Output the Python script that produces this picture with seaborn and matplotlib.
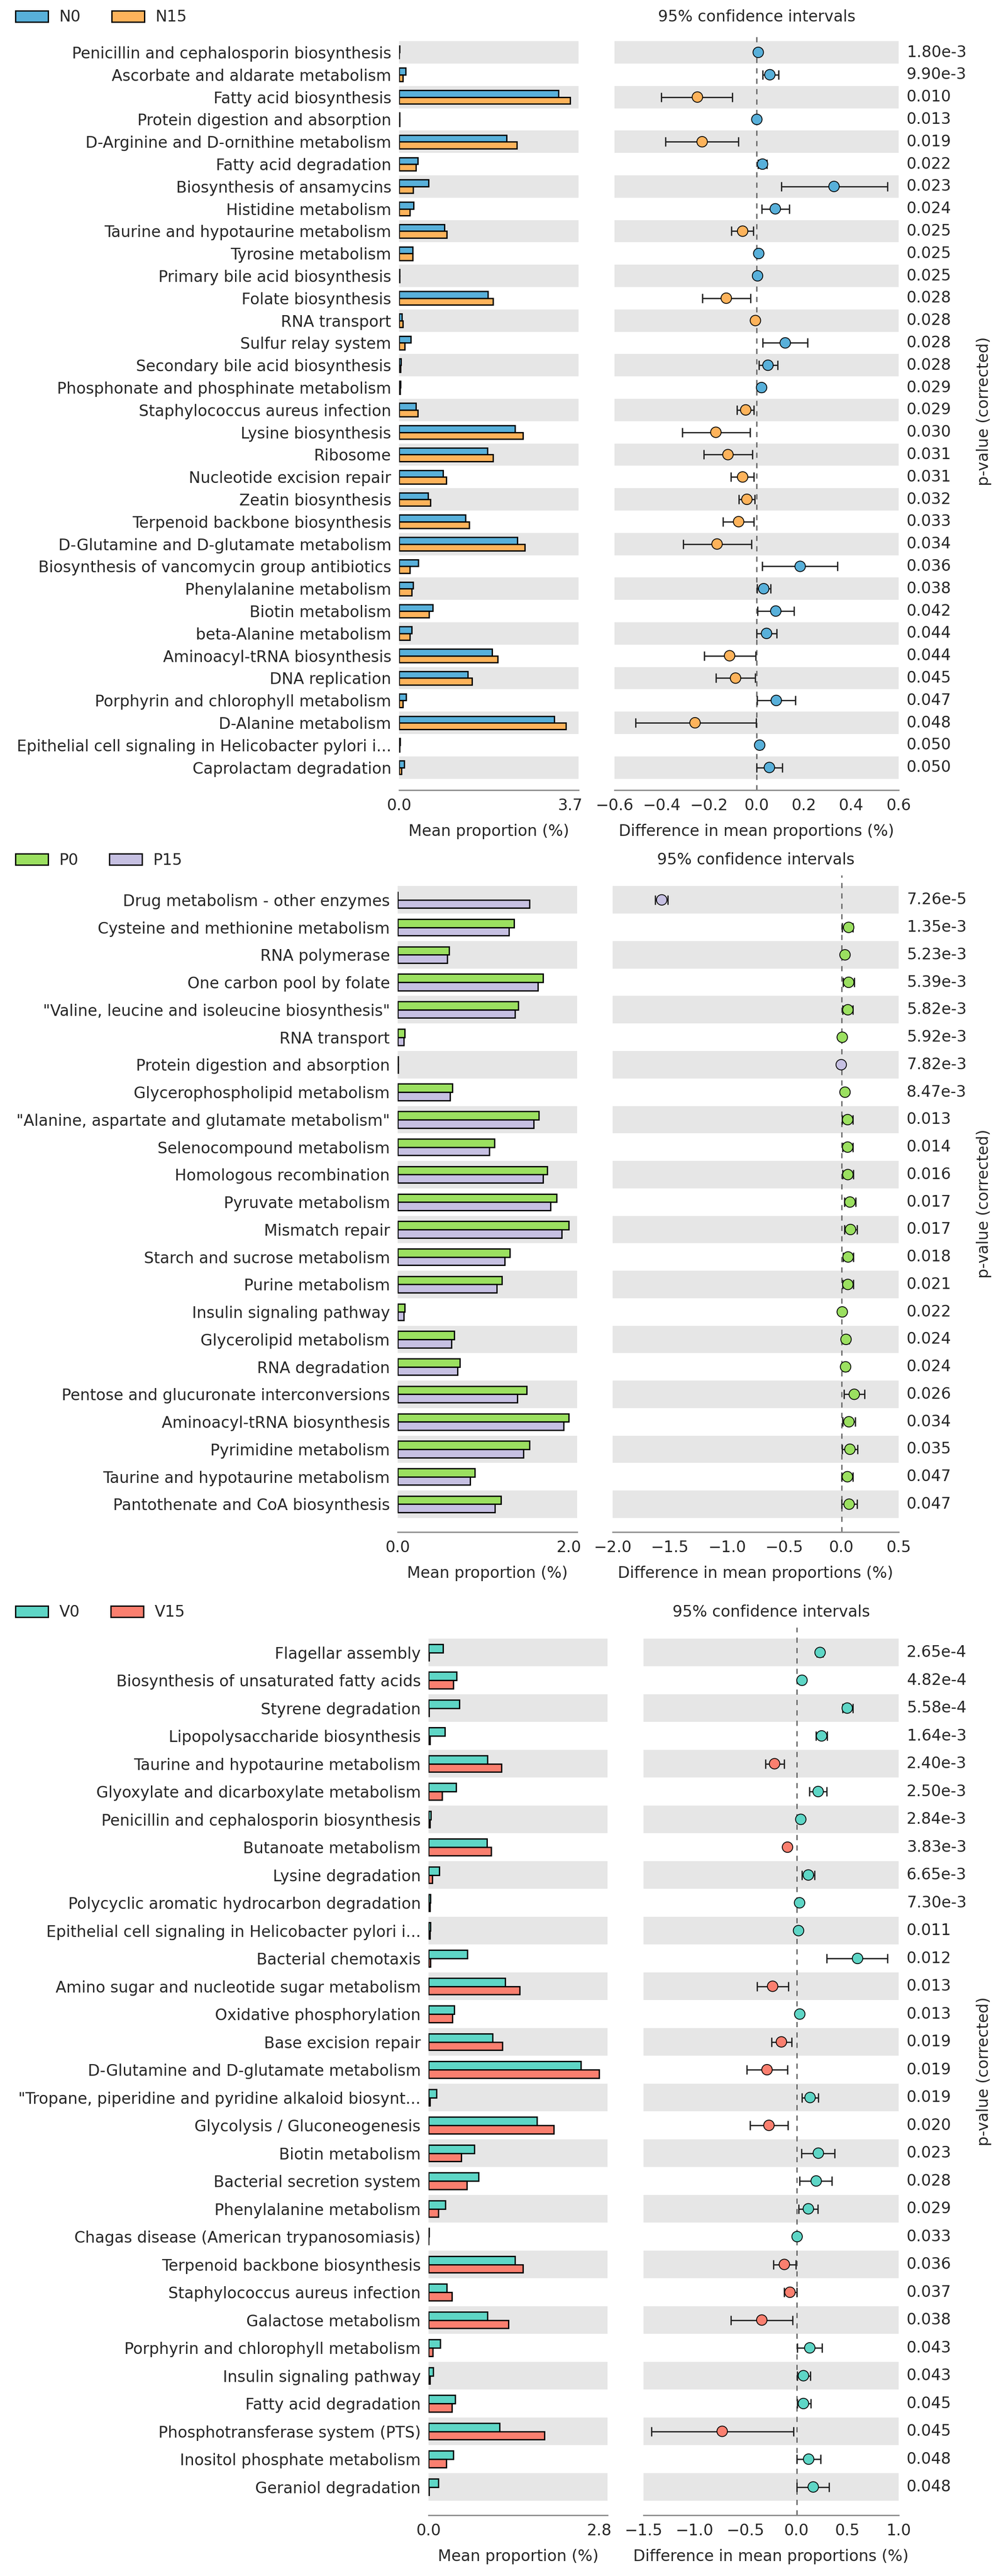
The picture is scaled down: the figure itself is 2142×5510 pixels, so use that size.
import matplotlib
matplotlib.use('Agg')
import matplotlib.pyplot as plt
from matplotlib.patches import Patch
import numpy as np
import pandas as pd
import seaborn as sns

# ---------- panel 1 : N0 vs N15 ----------
names1 = ["Penicillin and cephalosporin biosynthesis", "Ascorbate and aldarate metabolism",
          "Fatty acid biosynthesis", "Protein digestion and absorption",
          "D-Arginine and D-ornithine metabolism", "Fatty acid degradation",
          "Biosynthesis of ansamycins", "Histidine metabolism",
          "Taurine and hypotaurine metabolism", "Tyrosine metabolism",
          "Primary bile acid biosynthesis", "Folate biosynthesis", "RNA transport",
          "Sulfur relay system", "Secondary bile acid biosynthesis",
          "Phosphonate and phosphinate metabolism", "Staphylococcus aureus infection",
          "Lysine biosynthesis", "Ribosome", "Nucleotide excision repair",
          "Zeatin biosynthesis", "Terpenoid backbone biosynthesis",
          "D-Glutamine and D-glutamate metabolism",
          "Biosynthesis of vancomycin group antibiotics", "Phenylalanine metabolism",
          "Biotin metabolism", "beta-Alanine metabolism", "Aminoacyl-tRNA biosynthesis",
          "DNA replication", "Porphyrin and chlorophyll metabolism", "D-Alanine metabolism",
          "Epithelial cell signaling in Helicobacter pylori i...", "Caprolactam degradation"]
n0 = [0.01, 0.14, 3.46, 0.01, 2.33, 0.41, 0.64, 0.31, 0.98, 0.29, 0.01, 1.93, 0.06, 0.25, 0.04,
      0.03, 0.37, 2.52, 1.92, 0.95, 0.63, 1.44, 2.57, 0.42, 0.30, 0.73, 0.27, 2.02, 1.49, 0.15,
      3.37, 0.02, 0.11]
n15 = [0.0, 0.08, 3.71, 0.01, 2.56, 0.37, 0.30, 0.23, 1.03, 0.29, 0.01, 2.04, 0.08, 0.12, 0.03,
       0.02, 0.41, 2.69, 2.04, 1.02, 0.68, 1.52, 2.73, 0.23, 0.27, 0.65, 0.23, 2.14, 1.58, 0.08,
       3.62, 0.01, 0.05]
diff1 = [0.007, 0.056, -0.250, 0.001, -0.230, 0.025, 0.327, 0.079, -0.059, 0.009, 0.004, -0.128,
         -0.005, 0.121, 0.048, 0.021, -0.046, -0.172, -0.121, -0.059, -0.041, -0.076, -0.167,
         0.184, 0.030, 0.081, 0.042, -0.114, -0.089, 0.083, -0.260, 0.013, 0.054]
lo1 = [0.004, 0.025, -0.403, -0.001, -0.385, 0.005, 0.104, 0.022, -0.106, 0.006, 0.001, -0.229,
       -0.008, 0.025, 0.009, 0.011, -0.082, -0.313, -0.224, -0.108, -0.075, -0.143, -0.310,
       0.024, 0.001, 0.004, 0.000, -0.221, -0.172, 0.002, -0.512, 0.002, 0.000]
hi1 = [0.010, 0.092, -0.102, 0.003, -0.076, 0.043, 0.552, 0.139, -0.013, 0.012, 0.007, -0.025,
       -0.002, 0.216, 0.088, 0.031, -0.012, -0.027, -0.018, -0.011, -0.008, -0.012, -0.021,
       0.341, 0.060, 0.158, 0.085, -0.003, -0.005, 0.164, -0.002, 0.024, 0.109]
pv1 = ["1.80e-3", "9.90e-3", "0.010", "0.013", "0.019", "0.022", "0.023", "0.024", "0.025",
       "0.025", "0.025", "0.028", "0.028", "0.028", "0.028", "0.029", "0.029", "0.030", "0.031",
       "0.031", "0.032", "0.033", "0.034", "0.036", "0.038", "0.042", "0.044", "0.044", "0.045",
       "0.047", "0.048", "0.050", "0.050"]

# ---------- panel 2 : P0 vs P15 ----------
names2 = ["Drug metabolism - other enzymes", "Cysteine and methionine metabolism",
          "RNA polymerase", "One carbon pool by folate",
          '"Valine, leucine and isoleucine biosynthesis"', "RNA transport",
          "Protein digestion and absorption", "Glycerophospholipid metabolism",
          '"Alanine, aspartate and glutamate metabolism"', "Selenocompound metabolism",
          "Homologous recombination", "Pyruvate metabolism", "Mismatch repair",
          "Starch and sucrose metabolism", "Purine metabolism", "Insulin signaling pathway",
          "Glycerolipid metabolism", "RNA degradation",
          "Pentose and glucuronate interconversions", "Aminoacyl-tRNA biosynthesis",
          "Pyrimidine metabolism", "Taurine and hypotaurine metabolism",
          "Pantothenate and CoA biosynthesis"]
p0 = [0.0, 1.36, 0.60, 1.70, 1.41, 0.08, 0.005, 0.64, 1.65, 1.13, 1.75, 1.86, 2.00, 1.31, 1.22,
      0.08, 0.66, 0.73, 1.51, 2.00, 1.54, 0.90, 1.21]
p15 = [1.54, 1.30, 0.58, 1.64, 1.37, 0.07, 0.005, 0.61, 1.59, 1.07, 1.70, 1.79, 1.92, 1.25, 1.16,
       0.07, 0.63, 0.70, 1.40, 1.94, 1.47, 0.85, 1.14]
diff2 = [-1.571, 0.063, 0.031, 0.063, 0.056, 0.007, -0.002, 0.031, 0.054, 0.054, 0.056, 0.074,
         0.079, 0.058, 0.056, 0.007, 0.040, 0.036, 0.112, 0.065, 0.074, 0.052, 0.067]
lo2 = [-1.63, 0.005, 0.010, 0.015, 0.010, 0.002, -0.004, 0.010, 0.005, 0.010, 0.008, 0.025,
       0.025, 0.012, 0.008, 0.002, 0.015, 0.012, 0.022, 0.010, 0.005, 0.002, 0.000]
hi2 = [-1.52, 0.100, 0.052, 0.110, 0.100, 0.012, 0.000, 0.052, 0.100, 0.098, 0.104, 0.124,
       0.135, 0.104, 0.104, 0.012, 0.065, 0.060, 0.202, 0.122, 0.140, 0.100, 0.135]
pv2 = ["7.26e-5", "1.35e-3", "5.23e-3", "5.39e-3", "5.82e-3", "5.92e-3", "7.82e-3", "8.47e-3",
       "0.013", "0.014", "0.016", "0.017", "0.017", "0.018", "0.021", "0.022", "0.024", "0.024",
       "0.026", "0.034", "0.035", "0.047", "0.047"]

# ---------- panel 3 : V0 vs V15 ----------
names3 = ["Flagellar assembly", "Biosynthesis of unsaturated fatty acids", "Styrene degradation",
          "Lipopolysaccharide biosynthesis", "Taurine and hypotaurine metabolism",
          "Glyoxylate and dicarboxylate metabolism", "Penicillin and cephalosporin biosynthesis",
          "Butanoate metabolism", "Lysine degradation",
          "Polycyclic aromatic hydrocarbon degradation",
          "Epithelial cell signaling in Helicobacter pylori i...", "Bacterial chemotaxis",
          "Amino sugar and nucleotide sugar metabolism", "Oxidative phosphorylation",
          "Base excision repair", "D-Glutamine and D-glutamate metabolism",
          '"Tropane, piperidine and pyridine alkaloid biosynt...', "Glycolysis / Gluconeogenesis",
          "Biotin metabolism", "Bacterial secretion system", "Phenylalanine metabolism",
          "Chagas disease (American trypanosomiasis)", "Terpenoid backbone biosynthesis",
          "Staphylococcus aureus infection", "Galactose metabolism",
          "Porphyrin and chlorophyll metabolism", "Insulin signaling pathway",
          "Fatty acid degradation", "Phosphotransferase system (PTS)",
          "Inositol phosphate metabolism", "Geraniol degradation"]
v0 = [0.24, 0.46, 0.51, 0.27, 0.97, 0.45, 0.04, 0.96, 0.18, 0.03, 0.03, 0.64, 1.26, 0.42, 1.05,
      2.50, 0.13, 1.78, 0.75, 0.82, 0.28, 0.01, 1.42, 0.30, 0.97, 0.19, 0.08, 0.44, 1.17, 0.41,
      0.16]
v15 = [0.01, 0.41, 0.01, 0.02, 1.20, 0.22, 0.02, 1.03, 0.06, 0.02, 0.02, 0.03, 1.50, 0.39, 1.21,
       2.80, 0.02, 2.06, 0.54, 0.63, 0.16, 0.0, 1.55, 0.38, 1.31, 0.07, 0.02, 0.38, 1.90, 0.29,
       0.01]
diff3 = [0.230, 0.053, 0.496, 0.245, -0.216, 0.211, 0.041, -0.089, 0.115, 0.029, 0.019, 0.597,
         -0.235, 0.031, -0.149, -0.290, 0.132, -0.271, 0.213, 0.192, 0.115, 0.005, -0.120,
         -0.065, -0.341, 0.129, 0.067, 0.067, -0.729, 0.118, 0.163]
lo3 = [0.200, 0.030, 0.450, 0.190, -0.305, 0.125, 0.025, -0.110, 0.053, 0.015, 0.008, 0.297,
       -0.386, 0.015, -0.247, -0.489, 0.050, -0.458, 0.048, 0.031, 0.019, 0.000, -0.228, -0.122,
       -0.643, 0.005, 0.005, 0.005, -1.422, 0.002, 0.002]
hi3 = [0.260, 0.075, 0.550, 0.300, -0.122, 0.297, 0.060, -0.065, 0.177, 0.045, 0.030, 0.892,
       -0.082, 0.050, -0.050, -0.089, 0.213, -0.086, 0.372, 0.343, 0.206, 0.010, -0.007, 0.000,
       -0.038, 0.247, 0.134, 0.139, -0.031, 0.237, 0.317]
pv3 = ["2.65e-4", "4.82e-4", "5.58e-4", "1.64e-3", "2.40e-3", "2.50e-3", "2.84e-3", "3.83e-3",
       "6.65e-3", "7.30e-3", "0.011", "0.012", "0.013", "0.013", "0.019", "0.019", "0.019",
       "0.020", "0.023", "0.028", "0.029", "0.033", "0.036", "0.037", "0.038", "0.043", "0.043",
       "0.045", "0.045", "0.048", "0.048"]

W, H = 2142, 5510
FS = 24
AXIS_GREY = '#8a8a8a'
BAND = '#e6e6e6'

sns.set_style('white')
plt.rcParams['font.family'] = ['DejaVu Sans']

fig = plt.figure(figsize=(W / 100, H / 100), dpi=100)


def add_ax(x0, x1, y0, y1):
    return fig.add_axes([x0 / W, 1 - y1 / H, (x1 - x0) / W, (y1 - y0) / H])


def style_x(ax):
    for s in ['top', 'left', 'right']:
        ax.spines[s].set_visible(False)
    ax.spines['bottom'].set_color(AXIS_GREY)
    ax.spines['bottom'].set_linewidth(2)
    ax.tick_params(axis='x', direction='in', length=10, width=1.5, color=AXIS_GREY,
                   labelsize=FS, pad=12)


def panel(top, row_h, bar_x, ci_x, names, m0, m1, groups, colors,
          diff, lo, hi, pvals, ci_lim, ci_step):
    n = len(names)
    bottom = top + (n + 0.92) * row_h
    ylim = (n - 0.5 + 0.52, -0.9)

    # bars
    ax = add_ax(bar_x[0], bar_x[1], top, bottom)
    df = pd.DataFrame({'pathway': names * 2, 'value': m0 + m1,
                       'group': [groups[0]] * n + [groups[1]] * n})
    for i in range(0, n, 2):
        ax.axhspan(i - 0.5, i + 0.5, color=BAND, lw=0, zorder=0)
    sns.barplot(data=df, x='value', y='pathway', hue='group', order=names,
                hue_order=groups, palette=colors, orient='h', width=0.6,
                edgecolor='black', linewidth=2, errorbar=None, legend=False,
                saturation=1, ax=ax)
    vmax = max(m0 + m1)
    ax.set_xlim(0, vmax * 1.05)
    ax.set_xticks([0, vmax])
    ax.set_xticklabels(['0.0', f'{vmax:.1f}'])
    ax.set_ylim(*ylim)
    style_x(ax)
    ax.tick_params(axis='y', length=0, pad=12, labelsize=FS)
    ax.set_ylabel('')
    ax.set_xlabel('Mean proportion (%)', fontsize=FS, labelpad=16)

    # confidence intervals
    axc = add_ax(ci_x[0], ci_x[1], top, bottom)
    for i in range(0, n, 2):
        axc.axhspan(i - 0.5, i + 0.5, color=BAND, lw=0, zorder=0)
    axc.axvline(0, color='#666666', lw=2, ls=(0, (4, 4)), zorder=1)
    d = np.array(diff)
    rows = np.arange(n)
    axc.errorbar(d, rows, xerr=[d - np.array(lo), np.array(hi) - d], fmt='none',
                 ecolor='#222222', elinewidth=2, capsize=7, capthick=2, zorder=2)
    dfc = pd.DataFrame({'diff': d, 'row': rows,
                        'grp': [groups[0] if v > 0 else groups[1] for v in d]})
    sns.scatterplot(data=dfc, x='diff', y='row', hue='grp', hue_order=groups,
                    palette=colors, s=260, edgecolor='black', linewidth=1.3,
                    zorder=3, legend=False, ax=axc)
    axc.set_xlim(*ci_lim)
    axc.set_xticks(np.arange(ci_lim[0], ci_lim[1] + 1e-9, ci_step))
    axc.set_ylim(*ylim)
    axc.set_yticks([])
    axc.set_ylabel('')
    style_x(axc)
    axc.set_xlabel('Difference in mean proportions (%)', fontsize=FS, labelpad=16)

    # p-values
    px = (1940 - ci_x[0]) / (ci_x[1] - ci_x[0])
    for i, p in enumerate(pvals):
        axc.text(px, i, p, transform=axc.get_yaxis_transform(), ha='left',
                 va='center', fontsize=FS, clip_on=False)

    ymid = (top + bottom) / 2
    fig.text(2105 / W, 1 - ymid / H, 'p-value (corrected)', rotation=90,
             ha='center', va='center', fontsize=FS)

    # title and legend
    fig.text((ci_x[0] + ci_x[1]) / 2 / W, 1 - (top - 33) / H,
             '95% confidence intervals', ha='center', va='center', fontsize=FS)
    handles = [Patch(facecolor=colors[k], edgecolor='black', linewidth=2, label=groups[k])
               for k in range(2)]
    fig.legend(handles=handles, loc='center left',
               bbox_to_anchor=(33 / W, 1 - (top - 32) / H), ncol=2, frameon=False,
               fontsize=FS, handlelength=2.1, handleheight=0.7, handletextpad=0.7,
               columnspacing=2.0, borderpad=0, borderaxespad=0)


panel(69, 47.8, (854, 1238), (1315, 1923), names1, n0, n15, ['N0', 'N15'],
      ['#58B0DA', '#FDB35B'], diff1, lo1, hi1, pv1, (-0.6, 0.6), 0.2)
panel(1872, 58.75, (851, 1235), (1311, 1923), names2, p0, p15, ['P0', 'P15'],
      ['#9BE060', '#C6C0E2'], diff2, lo2, hi2, pv2, (-2.0, 0.5), 0.5)
panel(3481, 59.5, (917, 1300), (1377, 1923), names3, v0, v15, ['V0', 'V15'],
      ['#5ED6C6', '#FA7F6F'], diff3, lo3, hi3, pv3, (-1.5, 1.0), 0.5)

fig.savefig('out.png', dpi=100)
